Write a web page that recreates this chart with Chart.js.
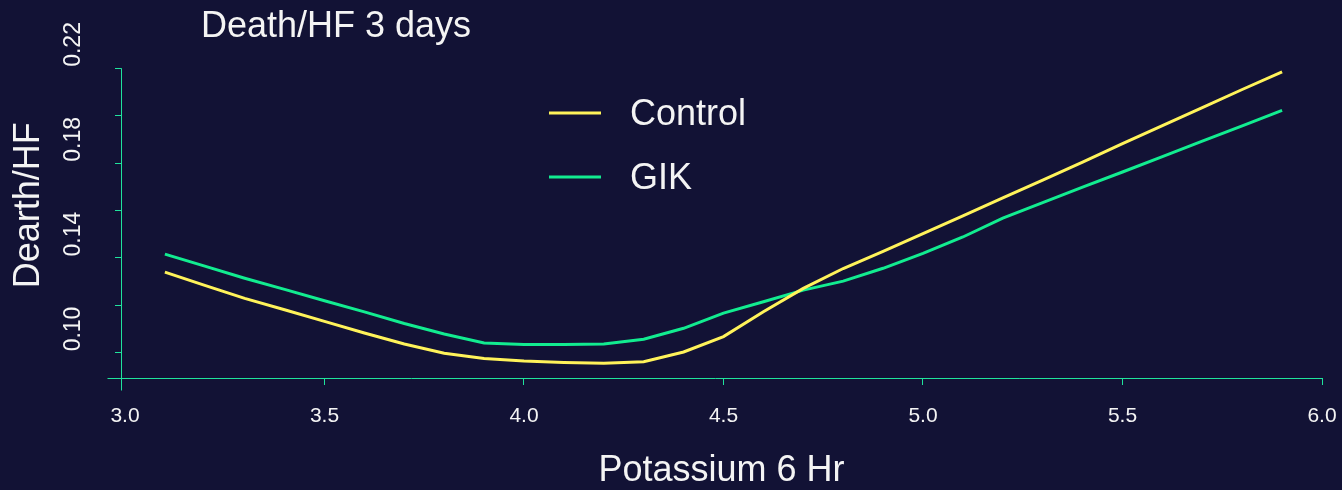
<!DOCTYPE html>
<html>
<head>
<meta charset="utf-8">
<script src="https://cdn.jsdelivr.net/npm/chart.js@4.4.1/dist/chart.umd.min.js"></script>
<style>
  html, body { margin: 0; padding: 0; background: #121235; }
  #wrap { width: 1342px; height: 490px; }
</style>
</head>
<body>
<div id="wrap"><canvas id="riskChart"></canvas></div>
<script>
const potassium = [3.1, 3.2, 3.3, 3.4, 3.5, 3.6, 3.7, 3.8, 3.9, 4.0, 4.1, 4.2, 4.3, 4.4, 4.5,
    4.6, 4.7, 4.8, 4.9, 5.0, 5.1, 5.2, 5.3, 5.4, 5.5, 5.6, 5.7, 5.8, 5.9];
const control = [0.1240, 0.1184, 0.1129, 0.1081, 0.1032, 0.0983, 0.0937, 0.0898, 0.0876, 0.0865,
    0.0859, 0.0855, 0.0862, 0.0903, 0.0968, 0.1073, 0.1171, 0.1255, 0.1327, 0.1402,
    0.1477, 0.1553, 0.1628, 0.1704, 0.1782, 0.1858, 0.1934, 0.2010, 0.2084];
const gik = [0.1316, 0.1265, 0.1214, 0.1167, 0.1119, 0.1072, 0.1023, 0.0979, 0.0941, 0.0935,
    0.0935, 0.0937, 0.0957, 0.1003, 0.1067, 0.1115, 0.1164, 0.1202, 0.1256, 0.1319,
    0.1388, 0.1468, 0.1533, 0.1598, 0.1662, 0.1727, 0.1792, 0.1857, 0.1922];
const xTicks = [3.0, 3.5, 4.0, 4.5, 5.0, 5.5, 6.0];
const yTickMarks = [0.09, 0.11, 0.13, 0.15, 0.17, 0.19, 0.21];
const yTickLabels = [0.10, 0.14, 0.18, 0.22];

const seriesNames = ['Control', 'GIK'];
const seriesColors = ['#fff35a', '#12ec90'];
const axisColor = '#1fe39c';
const textColor = '#f4f4f4';
const fontFamily = '"Liberation Sans", Arial, sans-serif';

const hund = v => Math.round(v * 100);
const yTicks = yTickMarks.concat(yTickLabels).sort((a, b) => a - b);

// title, legend and the R-style axis lines
const decorPlugin = {
    id: 'decor',
    beforeDatasetsDraw(chart) {
        const {ctx, chartArea, scales} = chart;
        ctx.save();
        ctx.strokeStyle = axisColor;
        ctx.lineWidth = 1;
        const ax = Math.round(chartArea.left) + 0.5;
        const ay = Math.round(chartArea.bottom) + 0.5;
        ctx.beginPath();
        ctx.moveTo(ax, scales.y.getPixelForValue(yTickMarks[yTickMarks.length - 1]));
        ctx.lineTo(ax, ay + 12);
        ctx.moveTo(ax - 14, ay);
        ctx.lineTo(scales.x.getPixelForValue(xTicks[xTicks.length - 1]) + 1, ay);
        ctx.stroke();
        ctx.restore();
    },
    afterDraw(chart) {
        const {ctx} = chart;
        ctx.save();
        ctx.fillStyle = textColor;
        ctx.font = '36px ' + fontFamily;
        ctx.textAlign = 'left';
        ctx.textBaseline = 'alphabetic';
        ctx.fillText('Death/HF 3 days', 201, 37);

        chart.data.datasets.forEach((ds, i) => {
            const y = 113 + i * 64;
            ctx.strokeStyle = ds.borderColor;
            ctx.lineWidth = 3;
            ctx.beginPath();
            ctx.moveTo(549, y);
            ctx.lineTo(601, y);
            ctx.stroke();
            ctx.textBaseline = 'middle';
            ctx.fillText(ds.label, 630, y + 2);
        });
        ctx.restore();
    }
};

const ctx = document.getElementById('riskChart').getContext('2d');
const riskChart = new Chart(ctx, {
    type: 'line',
    data: {
        datasets: [
            {
                label: seriesNames[0],
                data: potassium.map((k, i) => ({x: k, y: control[i]})),
                borderColor: seriesColors[0],
                borderWidth: 3,
                pointRadius: 0,
                tension: 0
            },
            {
                label: seriesNames[1],
                data: potassium.map((k, i) => ({x: k, y: gik[i]})),
                borderColor: seriesColors[1],
                borderWidth: 3,
                pointRadius: 0,
                tension: 0
            }
        ]
    },
    options: {
        responsive: true,
        maintainAspectRatio: false,
        animation: false,
        layout: {
            padding: {top: 32.6, right: 20, bottom: 0, left: 0}
        },
        plugins: {
            legend: {display: false},
            title: {display: false},
            tooltip: {enabled: false}
        },
        scales: {
            x: {
                type: 'linear',
                min: 2.99,
                max: 6.0,
                afterBuildTicks: scale => { scale.ticks = xTicks.map(v => ({value: v})); },
                afterFit: scale => { scale.height = 112; },
                border: {display: false},
                grid: {
                    drawOnChartArea: false,
                    tickLength: 7,
                    tickColor: c => (c.index === 0 ? 'rgba(0,0,0,0)' : axisColor)
                },
                ticks: {
                    autoSkip: false,
                    maxRotation: 0,
                    padding: 0,
                    color: textColor,
                    // tall line height pushes the labels down instead of tick padding
                    font: {family: fontFamily, size: 21, lineHeight: 3},
                    callback: v => Number(v).toFixed(1)
                },
                title: {
                    display: true,
                    text: 'Potassium 6 Hr',
                    color: textColor,
                    font: {family: fontFamily, size: 36, lineHeight: 1},
                    padding: {top: 0, bottom: 1}
                }
            },
            y: {
                min: 0.07933,
                max: 0.225,
                afterBuildTicks: scale => { scale.ticks = yTicks.map(v => ({value: v})); },
                afterFit: scale => { scale.width = 121; },
                border: {display: false},
                grid: {
                    drawOnChartArea: false,
                    tickLength: 6,
                    tickColor: c => (yTickMarks.some(m => hund(m) === hund(c.tick.value)) ? axisColor : 'rgba(0,0,0,0)')
                },
                ticks: {
                    autoSkip: false,
                    minRotation: 90,
                    maxRotation: 90,
                    crossAlign: 'center',
                    padding: 18.6,
                    color: textColor,
                    font: {family: fontFamily, size: 23},
                    callback: v => (yTickLabels.some(l => hund(l) === hund(v)) ? Number(v).toFixed(2) : '')
                },
                title: {
                    display: true,
                    text: 'Dearth/HF',
                    color: textColor,
                    font: {family: fontFamily, size: 36, lineHeight: 1},
                    padding: {top: 11, bottom: 0}
                }
            }
        }
    },
    plugins: [decorPlugin]
});
</script>
</body>
</html>
